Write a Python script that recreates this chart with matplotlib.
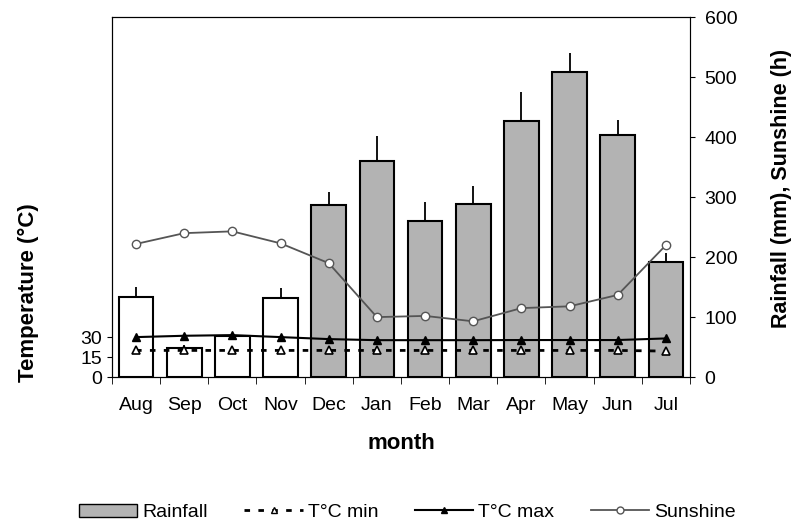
import numpy as np
import matplotlib.pyplot as plt
from matplotlib.patches import Patch
from matplotlib.lines import Line2D

months = ["Aug", "Sep", "Oct", "Nov", "Dec", "Jan", "Feb", "Mar", "Apr", "May", "Jun", "Jul"]
rainfall = [133, 48, 68, 132, 287, 360, 260, 288, 427, 508, 403, 192]
rain_err = [17, 6, 6, 17, 22, 42, 32, 30, 48, 33, 25, 15]
sunshine = [222, 240, 243, 223, 190, 100, 102, 93, 115, 118, 137, 220]
tmax = [30, 31, 31.5, 30, 28.5, 27.7, 27.7, 27.7, 27.8, 27.8, 27.8, 29]
tmin = [20, 20, 20, 20, 20, 20, 20, 20, 20, 20, 20, 19.5]

plt.rcParams['font.family'] = ['Liberation Sans', 'DejaVu Sans']

x = np.arange(len(months))
fig = plt.figure(figsize=(7.94, 5.23), dpi=100)
ax = fig.add_axes([0.141, 0.279, 0.728, 0.688])
ax2 = ax.twinx()

# rainfall bars on the right axis
colors = ['white'] * 4 + ['#b3b3b3'] * 8
ax2.bar(x, rainfall, width=0.72, color=colors, edgecolor='black', linewidth=1.5, zorder=2)
ax2.errorbar(x, rainfall, yerr=[np.zeros(len(x)), rain_err], fmt='none',
             ecolor='black', elinewidth=1.3, capsize=0, zorder=1)
ax2.plot(x, sunshine, color='#555555', lw=1.3, marker='o', ms=6,
         mfc='white', mec='#555555', zorder=4)
ax2.set_ylim(0, 600)
ax2.set_yticks(range(0, 601, 100))
ax2.tick_params(axis='y', pad=7)
ax2.set_ylabel("Rainfall (mm), Sunshine (h)", fontsize=15.5, fontweight='bold',
               labelpad=24, y=0.525)

# temperatures on the left axis
ax.set_zorder(ax2.get_zorder() + 1)
ax.patch.set_visible(False)
ax.plot(x, tmax, color='black', lw=1.5, marker='^', ms=6, mfc='black')
ax.plot(x, tmin, color='black', lw=2, ls=(0, (2, 3)), marker='^', ms=6,
        mfc='white', mec='black', mew=1.2)
ax.set_ylim(0, 270)
ax.set_yticks([0, 15, 30])
ax.set_ylabel("Temperature (°C)", fontsize=16, fontweight='bold', y=0.236, labelpad=30)

ax.set_xlim(-0.5, 11.5)
ax.set_xticks(x)
ax.set_xticks(np.arange(-0.5, 12, 1), minor=True)
ax.set_xticklabels(months)
ax.tick_params(axis='x', which='major', length=0, pad=14)
ax.tick_params(axis='x', which='minor', length=5, direction='out')
ax.set_xlabel("month", fontsize=16, fontweight='bold', labelpad=14)

for a in (ax, ax2):
    a.tick_params(labelsize=14)
ax2.spines['right'].set_color('#666666')

handles = [Patch(facecolor='#b3b3b3', edgecolor='black'),
           Line2D([], [], color='black', ls=(0, (2, 3)), lw=2, marker='^', mfc='white', mec='black', ms=5),
           Line2D([], [], color='black', lw=1.5, marker='^', mfc='black', ms=5),
           Line2D([], [], color='#555555', lw=1.3, marker='o', mfc='white', ms=5)]
fig.legend(handles, ["Rainfall", "T°C min", "T°C max", "Sunshine"], loc='lower center',
           ncol=4, frameon=False, fontsize=14, bbox_to_anchor=(0.513, -0.03),
           handlelength=3.0, handletextpad=0.25, columnspacing=1.9)

fig.savefig("out.png", dpi=100)
